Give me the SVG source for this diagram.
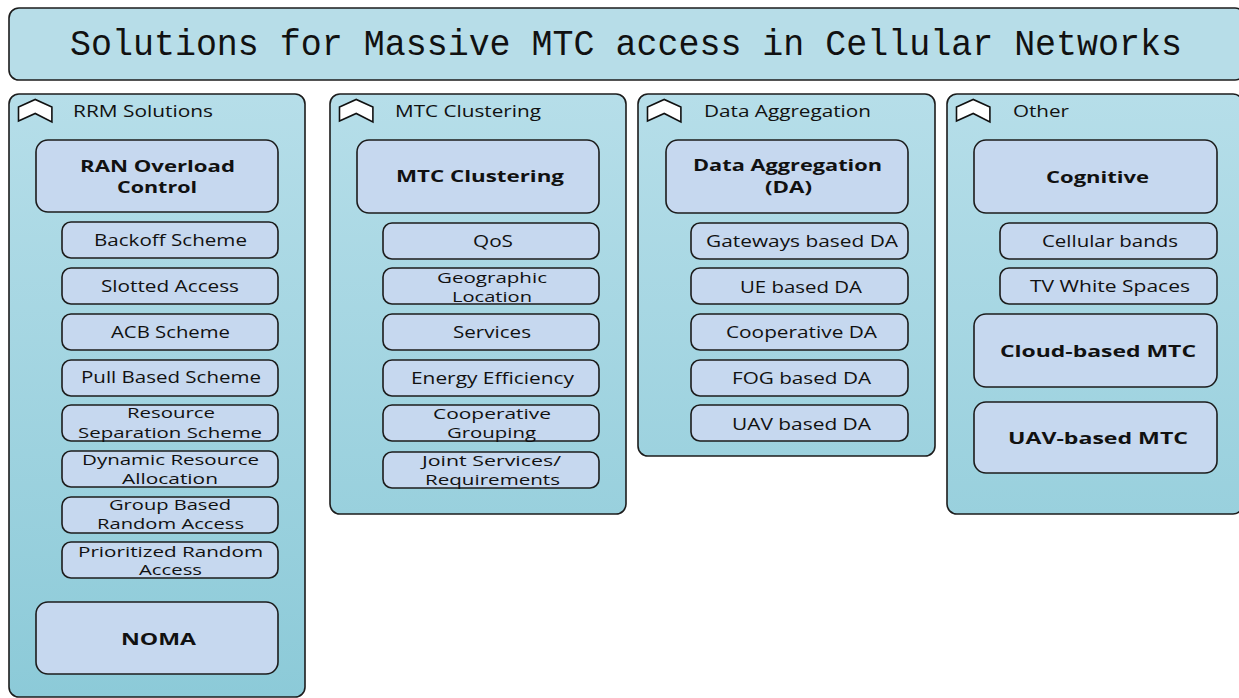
<svg xmlns="http://www.w3.org/2000/svg" width="1239" height="698" viewBox="0 0 1239 698">
<defs>
<linearGradient id="pg" gradientUnits="userSpaceOnUse" x1="0" y1="94" x2="0" y2="698">
<stop offset="0" stop-color="#b6dee9"/>
<stop offset="1" stop-color="#8ccad8"/>
</linearGradient>
<polygon id="icon" points="0,21.5 0,7.5 16.7,0 33.4,7.5 33.4,22.5 16.7,14" fill="#ffffff" stroke="#111" stroke-width="1.6" stroke-linejoin="miter"/>
</defs>
<style>
.panel{fill:url(#pg);stroke:#1c1c1c;stroke-width:1.6}
.box{fill:#c6d8ef;stroke:#1c1c1c;stroke-width:1.6}
text{font-family:"Open Sans","Liberation Sans",sans-serif;font-size:16.5px;fill:#111}
.b{font-weight:bold}
.s{font-size:15px}
.title{font-family:"Liberation Mono","DejaVu Sans Mono",monospace;font-size:36px;fill:#111}
</style>
<rect width="1239" height="698" fill="#ffffff"/>

<g id="title">
<rect x="9" y="8" width="1236" height="72" rx="10" fill="#b7dde8" stroke="#1c1c1c" stroke-width="1.6"/>
<text class="title" x="70" y="55" textLength="1112" lengthAdjust="spacingAndGlyphs">Solutions for Massive MTC access in Cellular Networks</text>
</g>

<g id="panel-rrm">
<rect class="panel" x="9" y="94" width="296" height="603" rx="10"/>
<use href="#icon" x="18.5" y="99.5"/>
<text x="73" y="117" textLength="140" lengthAdjust="spacingAndGlyphs">RRM Solutions</text>
<g id="ran-overload"><rect class="box" x="36" y="140" width="242" height="72" rx="12"/>
<text class="b"><tspan x="80" y="172" textLength="155" lengthAdjust="spacingAndGlyphs">RAN Overload</tspan><tspan x="117" y="193" textLength="80" lengthAdjust="spacingAndGlyphs">Control</tspan></text></g>
<g id="backoff"><rect class="box" x="62" y="222" width="216" height="36" rx="9"/><text x="94" y="246" textLength="153" lengthAdjust="spacingAndGlyphs">Backoff Scheme</text></g>
<g id="slotted"><rect class="box" x="62" y="268" width="216" height="36" rx="9"/><text x="101" y="292" textLength="138" lengthAdjust="spacingAndGlyphs">Slotted Access</text></g>
<g id="acb"><rect class="box" x="62" y="314" width="216" height="36" rx="9"/><text x="111" y="338" textLength="119" lengthAdjust="spacingAndGlyphs">ACB Scheme</text></g>
<g id="pull"><rect class="box" x="62" y="360" width="216" height="36" rx="9"/><text x="81" y="383" textLength="180" lengthAdjust="spacingAndGlyphs">Pull Based Scheme</text></g>
<g id="resource-sep"><rect class="box" x="62" y="405" width="216" height="36" rx="9"/><text class="s"><tspan x="127" y="418" textLength="88" lengthAdjust="spacingAndGlyphs">Resource</tspan><tspan x="78" y="438" textLength="184" lengthAdjust="spacingAndGlyphs">Separation Scheme</tspan></text></g>
<g id="dynamic"><rect class="box" x="62" y="451" width="216" height="36" rx="9"/><text class="s"><tspan x="82" y="465" textLength="177" lengthAdjust="spacingAndGlyphs">Dynamic Resource</tspan><tspan x="122" y="484" textLength="96" lengthAdjust="spacingAndGlyphs">Allocation</tspan></text></g>
<g id="group-based"><rect class="box" x="62" y="497" width="216" height="36" rx="9"/><text class="s"><tspan x="109" y="510" textLength="122" lengthAdjust="spacingAndGlyphs">Group Based</tspan><tspan x="97" y="529" textLength="147" lengthAdjust="spacingAndGlyphs">Random Access</tspan></text></g>
<g id="prioritized"><rect class="box" x="62" y="542" width="216" height="36" rx="9"/><text class="s"><tspan x="78" y="557" textLength="185" lengthAdjust="spacingAndGlyphs">Prioritized Random</tspan><tspan x="139" y="575" textLength="63" lengthAdjust="spacingAndGlyphs">Access</tspan></text></g>
<g id="noma"><rect class="box" x="36" y="602" width="242" height="72" rx="12"/><text class="b" x="121" y="645" textLength="75" lengthAdjust="spacingAndGlyphs">NOMA</text></g>
</g>

<g id="panel-clustering">
<rect class="panel" x="330" y="94" width="296" height="420" rx="10"/>
<use href="#icon" x="339.5" y="99.5"/>
<text x="395" y="117" textLength="146" lengthAdjust="spacingAndGlyphs">MTC Clustering</text>
<g id="mtc-clustering"><rect class="box" x="357" y="140" width="242" height="73" rx="12"/><text class="b" x="396" y="182" textLength="168" lengthAdjust="spacingAndGlyphs">MTC Clustering</text></g>
<g id="qos"><rect class="box" x="383" y="223" width="216" height="36" rx="9"/><text x="473" y="247" textLength="40" lengthAdjust="spacingAndGlyphs">QoS</text></g>
<g id="geographic"><rect class="box" x="383" y="268" width="216" height="36" rx="9"/><text class="s"><tspan x="437" y="283" textLength="110" lengthAdjust="spacingAndGlyphs">Geographic</tspan><tspan x="452" y="302" textLength="80" lengthAdjust="spacingAndGlyphs">Location</tspan></text></g>
<g id="services"><rect class="box" x="383" y="314" width="216" height="36" rx="9"/><text x="453" y="338" textLength="78" lengthAdjust="spacingAndGlyphs">Services</text></g>
<g id="energy"><rect class="box" x="383" y="360" width="216" height="36" rx="9"/><text x="411" y="384" textLength="163" lengthAdjust="spacingAndGlyphs">Energy Efficiency</text></g>
<g id="coop-grouping"><rect class="box" x="383" y="405" width="216" height="36" rx="9"/><text class="s"><tspan x="433" y="419" textLength="118" lengthAdjust="spacingAndGlyphs">Cooperative</tspan><tspan x="447" y="438" textLength="89" lengthAdjust="spacingAndGlyphs">Grouping</tspan></text></g>
<g id="joint"><rect class="box" x="383" y="452" width="216" height="36" rx="9"/><text class="s"><tspan x="422" y="466" textLength="139" lengthAdjust="spacingAndGlyphs">Joint Services/</tspan><tspan x="425" y="485" textLength="135" lengthAdjust="spacingAndGlyphs">Requirements</tspan></text></g>
</g>

<g id="panel-aggregation">
<rect class="panel" x="638" y="94" width="297" height="362" rx="10"/>
<use href="#icon" x="647.5" y="99.5"/>
<text x="704" y="117" textLength="167" lengthAdjust="spacingAndGlyphs">Data Aggregation</text>
<g id="data-aggregation"><rect class="box" x="666" y="140" width="242" height="73" rx="12"/><text class="b"><tspan x="693" y="171" textLength="189" lengthAdjust="spacingAndGlyphs">Data Aggregation</tspan><tspan x="765" y="192.5" textLength="47" lengthAdjust="spacingAndGlyphs">(DA)</tspan></text></g>
<g id="gateways"><rect class="box" x="691" y="223" width="217" height="36" rx="9"/><text x="706" y="247" textLength="192" lengthAdjust="spacingAndGlyphs">Gateways based DA</text></g>
<g id="ue"><rect class="box" x="691" y="268" width="217" height="36" rx="9"/><text x="740" y="293" textLength="122" lengthAdjust="spacingAndGlyphs">UE based DA</text></g>
<g id="coop-da"><rect class="box" x="691" y="314" width="217" height="36" rx="9"/><text x="726" y="338" textLength="151" lengthAdjust="spacingAndGlyphs">Cooperative DA</text></g>
<g id="fog"><rect class="box" x="691" y="360" width="217" height="36" rx="9"/><text x="732" y="384" textLength="139" lengthAdjust="spacingAndGlyphs">FOG based DA</text></g>
<g id="uav-da"><rect class="box" x="691" y="405" width="217" height="36" rx="9"/><text x="732" y="430" textLength="139" lengthAdjust="spacingAndGlyphs">UAV based DA</text></g>
</g>

<g id="panel-other">
<rect class="panel" x="947" y="94" width="296" height="420" rx="10"/>
<use href="#icon" x="956.5" y="99.5"/>
<text x="1013" y="117" textLength="56" lengthAdjust="spacingAndGlyphs">Other</text>
<g id="cognitive"><rect class="box" x="974" y="140" width="243" height="73" rx="12"/><text class="b" x="1046" y="183" textLength="103" lengthAdjust="spacingAndGlyphs">Cognitive</text></g>
<g id="cellular"><rect class="box" x="1000" y="223" width="217" height="36" rx="9"/><text x="1042" y="247" textLength="136" lengthAdjust="spacingAndGlyphs">Cellular bands</text></g>
<g id="tvws"><rect class="box" x="1000" y="268" width="217" height="36" rx="9"/><text x="1030" y="292" textLength="160" lengthAdjust="spacingAndGlyphs">TV White Spaces</text></g>
<g id="cloud"><rect class="box" x="974" y="314" width="243" height="73" rx="12"/><text class="b" x="1000" y="357" textLength="196" lengthAdjust="spacingAndGlyphs">Cloud-based MTC</text></g>
<g id="uav-mtc"><rect class="box" x="974" y="402" width="243" height="71" rx="12"/><text class="b" x="1008" y="444" textLength="180" lengthAdjust="spacingAndGlyphs">UAV-based MTC</text></g>
</g>
</svg>
